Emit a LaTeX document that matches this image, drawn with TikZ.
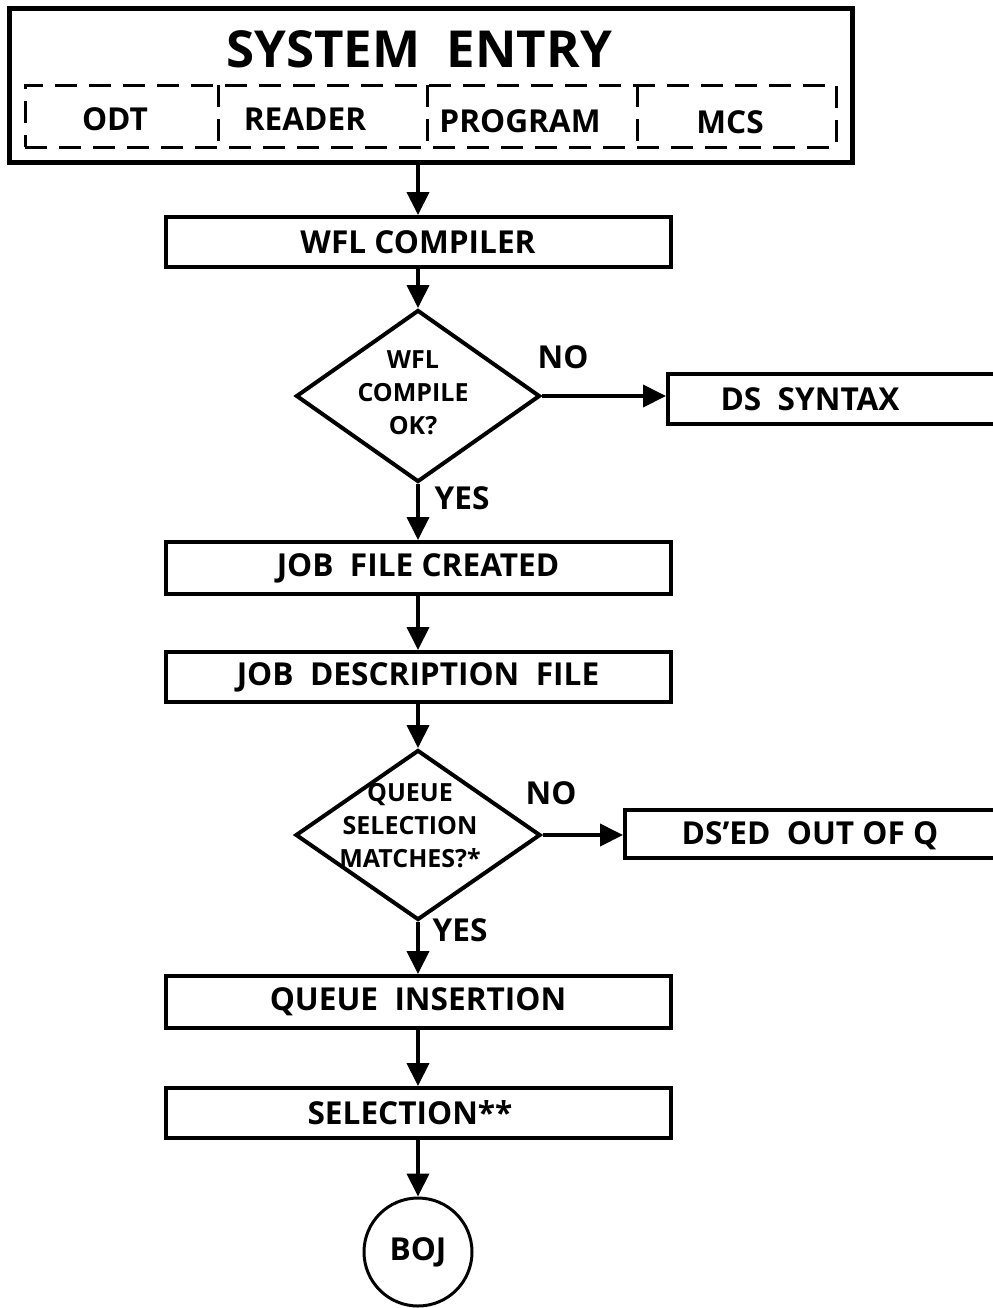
\documentclass[tikz,border=0pt]{standalone}
\usepackage{fontspec}
\setmainfont{Open Sans}
\usetikzlibrary{arrows.meta,shapes.geometric}

\tikzset{
  boxfont/.style={font=\bfseries\fontsize{15.8}{19}\selectfont},
  panel/.style={draw,line width=2pt,minimum width=252.5pt,minimum height=25pt,inner sep=0pt,boxfont},
  dashline/.style={line width=1.5pt,dash pattern=on 11pt off 6pt},
  part/.style={inner sep=0pt,boxfont},
  test/.style={draw,diamond,line width=2pt,inner sep=0pt,minimum width=122pt,minimum height=86pt},
  testfont/.style={align=center,font=\bfseries\fontsize{12.5}{16.5}\selectfont},
  flow/.style={line width=2pt,-{Triangle[length=11.5pt,width=11pt]}},
}

\begin{document}
\begin{tikzpicture}[x=0.5pt,y=-0.5pt]
   \useasboundingbox (0,0) rectangle (992,1308);

   % 入口
   \node[draw,line width=2.5pt,minimum width=421.5pt,minimum height=77pt,inner sep=0pt] (entry) at (430.5,85) {};
   \node[font=\bfseries\fontsize{25.5}{30}\selectfont] (title) at (419,49) {SYSTEM\ \ ENTRY};
   \node[draw,dashline,minimum width=405.5pt,minimum height=31pt,inner sep=0pt] (parts) at (430.5,116) {};
   \foreach \x in {218,427,637}
     \draw[dashline] (\x,85) -- (\x,147);
   \node[part] (odt) at (115,119) {ODT};
   \node[part] (reader) at (305,119) {READER};
   \node[part] (program) at (520,121) {PROGRAM};
   \node[part] (mcs) at (730,122) {MCS};

   % 本体
   \node[panel] (compiler) at (418,242) {WFL COMPILER};
   \node[test] (q1) at (418,396) {};
   \node[testfont] (q1text) at (413,393) {WFL\\COMPILE\\OK?};
   \node[panel,minimum width=171pt] (syntax) at (839,399) {};
   \node[boxfont] (syntaxtext) at (810,399) {DS\ \ SYNTAX};
   \node[panel,minimum height=26pt] (jobfile) at (418,568) {JOB\ \ FILE CREATED};
   \node[panel] (jobdesc) at (418,677) {JOB\ \ DESCRIPTION\ \ FILE};
   \node[test,minimum width=122.5pt,minimum height=85pt] (q2) at (418,835) {};
   \node[testfont] (q2text) at (410,826) {QUEUE\\SELECTION\\MATCHES?*};
   \node[panel,minimum width=192.5pt,minimum height=24pt] (dsout) at (817.5,834) {};
   \node[boxfont] (dsouttext) at (810,836) {DS'ED\ \ OUT OF Q};
   \node[panel,minimum height=26pt] (insertion) at (418,1002) {QUEUE\ \ INSERTION};
   \node[panel] (selection) at (418,1113) {};
   \node[boxfont] (selectiontext) at (410,1113) {SELECTION**};
   \node[draw,circle,line width=1.5pt,minimum size=54pt,inner sep=0pt,boxfont] (boj) at (418,1252) {BOJ};

   % 矢印
   \draw[flow] (compiler.north |- entry.south) -- (compiler);
   \draw[flow] (compiler) -- (q1);
   \draw[flow] (q1.east) -- (syntax.west |- q1.east);
   \draw[flow] (q1) -- (jobfile);
   \draw[flow] (jobfile) -- (jobdesc);
   \draw[flow] (jobdesc) -- (q2);
   \draw[flow] (q2.east) -- (dsout.west |- q2.east);
   \draw[flow] (q2) -- (insertion);
   \draw[flow] (insertion) -- (selection);
   \draw[flow] (selection) -- (boj);

   % 分岐ラベル
   \node[boxfont] (no1) at (563,357) {NO};
   \node[boxfont] (yes1) at (462,498) {YES};
   \node[boxfont] (no2) at (551,793) {NO};
   \node[boxfont] (yes2) at (460,930) {YES};
\end{tikzpicture}
\end{document}
